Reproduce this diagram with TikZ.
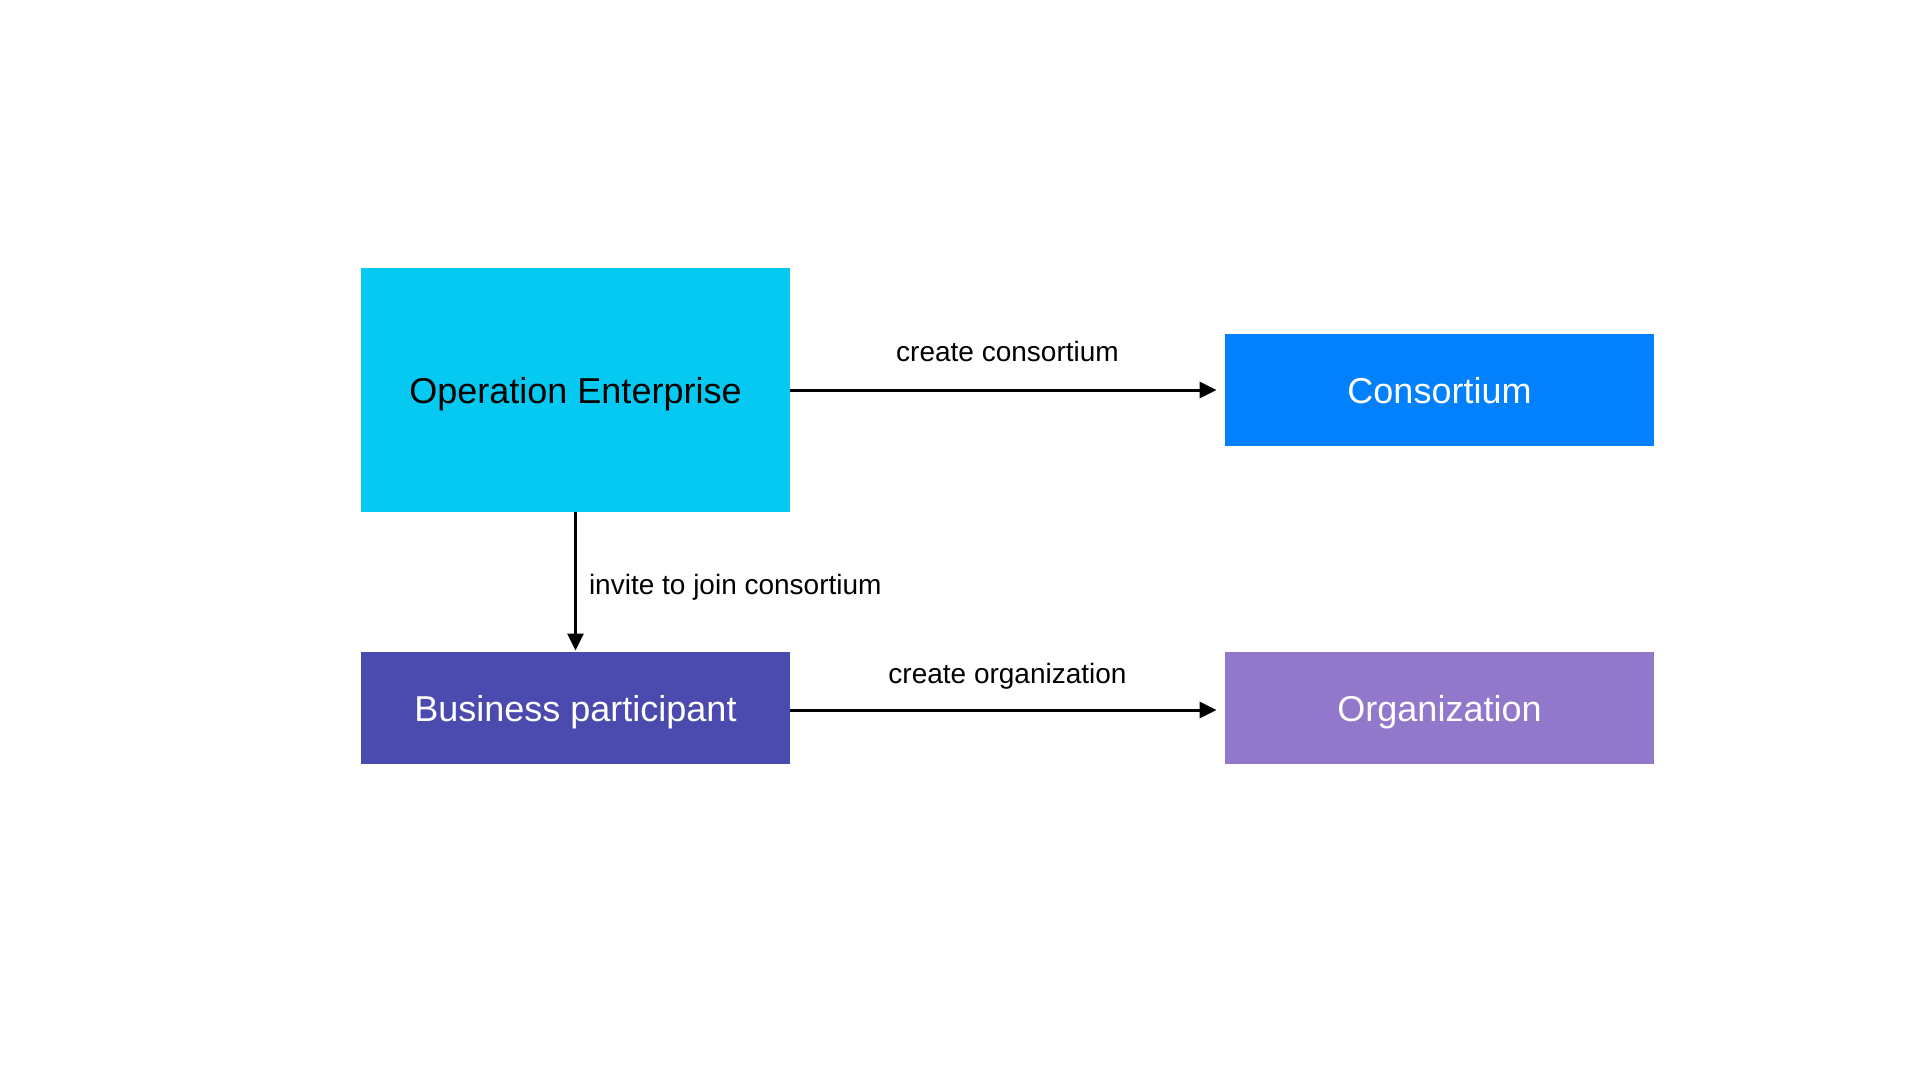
\documentclass[tikz,border=0pt]{standalone}
\usepackage{fontspec}
\setmainfont{Liberation Sans}
\usetikzlibrary{arrows.meta}
\definecolor{cian}{HTML}{05C9F0}
\definecolor{azul}{HTML}{0380FB}
\definecolor{indigo}{HTML}{4B4BAF}
\definecolor{lila}{HTML}{9178CB}
\begin{document}
\begin{tikzpicture}[x=0.5pt,y=-0.5pt,
  caja/.style={rectangle, inner sep=0pt, minimum width=214.5pt, minimum height=56pt,
    text depth=0pt, text=white, font=\fontsize{18}{21}\selectfont},
  flecha/.style={line width=1.5pt, -{Triangle[length=8.5pt,width=8pt]}},
  etiqueta/.style={inner sep=0pt, font=\fontsize{14}{17}\selectfont}]
% Marco
\useasboundingbox (0,0) rectangle (1920,1080);
% Cajas
\node[caja, fill=cian, text=black, minimum height=122pt] (oe) at (575.5,390) {Operation Enterprise};
\node[caja, fill=azul] (cons) at (1439.5,390) {Consortium};
\node[caja, fill=indigo] (bp) at (575.5,708) {Business participant};
\node[caja, fill=lila] (org) at (1439.5,708) {Organization};
% Flechas
\draw[flecha, shorten >=4pt] (oe.east) -- (cons.west)
  node[etiqueta, midway, anchor=base, yshift=14pt] {create consortium};
\draw[flecha, shorten >=0.5pt] (oe.south) -- (bp.north)
  node[etiqueta, midway, anchor=base west, xshift=6pt, yshift=-6pt] {invite to join consortium};
\draw[flecha, shorten >=4pt] ([yshift=-1pt]bp.east) -- ([yshift=-1pt]org.west)
  node[etiqueta, midway, anchor=base, yshift=13.5pt] {create organization};
\end{tikzpicture}
\end{document}
